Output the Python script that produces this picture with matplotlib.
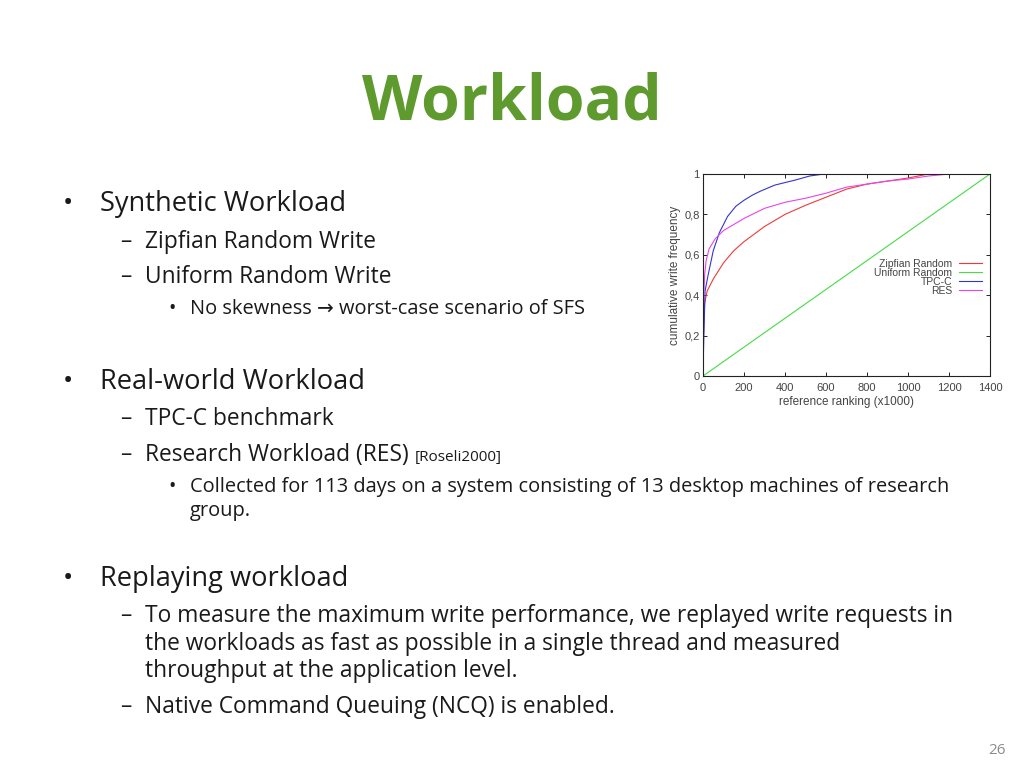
import matplotlib
matplotlib.use("Agg")
import matplotlib.pyplot as plt

plt.rcParams['font.family'] = ['Open Sans', 'DejaVu Sans']

# chart data (x in thousands)
zipf_x = [0, 2, 8, 20, 50, 100, 150, 200, 300, 400, 500, 600, 700, 800, 900, 1000, 1100, 1200]
zipf_y = [0, 0.2, 0.36, 0.42, 0.48, 0.56, 0.62, 0.665, 0.74, 0.80, 0.845, 0.885, 0.925, 0.95, 0.965, 0.98, 1.0, 1.0]
unif_x = [0, 1400]
unif_y = [0, 1.0]
tpcc_x = [0, 3, 10, 25, 50, 80, 120, 160, 200, 240, 280, 350, 450, 520, 590]
tpcc_y = [0, 0.15, 0.42, 0.5, 0.62, 0.71, 0.79, 0.84, 0.87, 0.895, 0.915, 0.945, 0.97, 0.99, 1.0]
res_x = [0, 2, 8, 15, 30, 60, 100, 200, 300, 400, 500, 600, 700, 800, 900, 1000, 1100, 1200]
res_y = [0, 0.35, 0.5, 0.57, 0.63, 0.68, 0.72, 0.78, 0.83, 0.86, 0.88, 0.905, 0.935, 0.95, 0.965, 0.975, 0.99, 1.0]

labels = ['Zipfian Random', 'Uniform Random', 'TPC-C', 'RES']
colors = ['#f03a3a', '#44dd44', '#3434d0', '#e846e8']
x_ticks = [0, 200, 400, 600, 800, 1000, 1200, 1400]
y_ticks = [0, 0.2, 0.4, 0.6, 0.8, 1.0]
y_ticklabels = ['0', '0,2', '0,4', '0,6', '0,8', '1']

W, H = 1024, 768
fig = plt.figure(figsize=(W / 100, H / 100), dpi=100)
fig.patch.set_facecolor('white')


def px(x, y):
    return x / W, 1 - y / H


green = '#5e9a2e'
dark = '#1a1a1a'

fig.text(*px(512, 103), 'Workload', ha='center', va='center', fontsize=45,
         fontweight='bold', color=green)

BULLET = '\u2022'
DASH = '\u2013'

def line(level, y, text, mark=True):
    y += 2
    if level == 0:
        bx, tx, fs = 63, 100, 19.6
    elif level == 1:
        bx, tx, fs = 120, 145, 16.4
    else:
        bx, tx, fs = 168, 190, 14.45
    if mark:
        sym = BULLET if level != 1 else DASH
        fig.text(*px(bx, y), sym, ha='left', va='center', fontsize=fs, color=dark)
    return fig.text(*px(tx, y), text, ha='left', va='center', fontsize=fs, color=dark)

line(0, 202, 'Synthetic Workload')
line(1, 240, 'Zipfian Random Write')
line(1, 275, 'Uniform Random Write')
line(2, 307, 'No skewness \u2192 worst-case scenario of SFS')

line(0, 380, 'Real-world Workload')
line(1, 417, 'TPC-C benchmark')
line(1, 453, 'Research Workload (RES)')
fig.text(*px(415, 457), '[Roseli2000]', ha='left', va='center', fontsize=11, color=dark)
line(2, 485, 'Collected for 113 days on a system consisting of 13 desktop machines of research')
line(2, 509, 'group.', mark=False)

line(0, 577, 'Replaying workload')
line(1, 614, 'To measure the maximum write performance, we replayed write requests in')
line(1, 642, 'the workloads as fast as possible in a single thread and measured', mark=False)
line(1, 669, 'throughput at the application level.', mark=False)
line(1, 705, 'Native Command Queuing (NCQ) is enabled.')

fig.text(*px(1006, 751), '26', ha='right', va='center', fontsize=11, color='#8c8c8c')

# embedded chart
cfont = ['Liberation Sans', 'DejaVu Sans']
cgray = '#444444'
ax = fig.add_axes([703 / W, 1 - 376 / H, (990 - 703) / W, (376 - 174) / H])
series = [(zipf_x, zipf_y), (unif_x, unif_y), (tpcc_x, tpcc_y), (res_x, res_y)]
for (xs, ys), lab, col in zip(series, labels, colors):
    ax.plot(xs, ys, color=col, lw=0.8, label=lab)

ax.set_xlim(0, 1400)
ax.set_ylim(0, 1)
ax.set_xticks(x_ticks)
ax.set_yticks(y_ticks)
ax.set_yticklabels(y_ticklabels)
ax.tick_params(direction='in', top=True, right=True, length=3, width=0.6,
               labelsize=8, labelcolor=cgray, pad=2.5)
ax.tick_params(axis='x', pad=5)
for s in ax.spines.values():
    s.set_linewidth(0.8)
    s.set_color('#222222')
ax.set_xlabel('reference ranking (x1000)', fontsize=8.5, color=cgray, labelpad=2,
              family=cfont)
ax.set_ylabel('cumulative write frequency', fontsize=8.5, color=cgray, labelpad=2,
              family=cfont)
for t in ax.get_xticklabels() + ax.get_yticklabels():
    t.set_family(cfont)

leg = ax.legend(loc='upper right', bbox_to_anchor=(1.0, 0.62), frameon=False,
                markerfirst=False, fontsize=7.5, handlelength=2.2, labelspacing=-0.1,
                handletextpad=0.6, borderaxespad=0.4)
for t in leg.get_texts():
    t.set_color(cgray)
    t.set_family(cfont)
    t.set_ha('right')
leg._legend_box.align = 'right'

fig.savefig('out.png', dpi=100, facecolor='white')
